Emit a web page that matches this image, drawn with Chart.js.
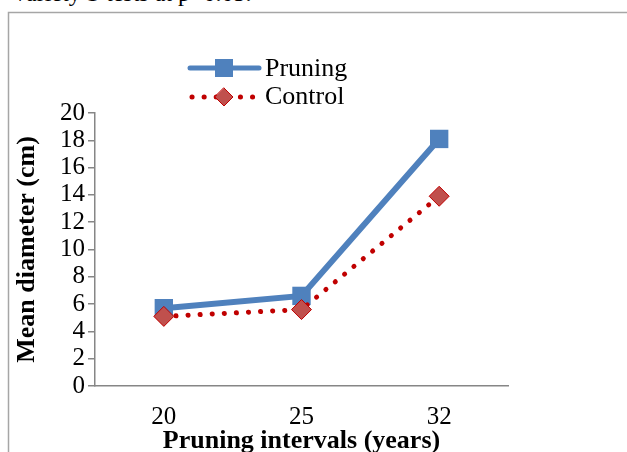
<!DOCTYPE html>
<html>
<head>
<meta charset="utf-8">
<script src="https://cdn.jsdelivr.net/npm/chart.js@4"></script>
<style>
  html, body { margin: 0; padding: 0; background: #fff; overflow: hidden; }
  #wrap { position: relative; width: 627px; height: 452px; overflow: hidden; }
  #topText { position: absolute; left: 14px; top: -20px; font: 24px "Liberation Serif", serif; color: #000; white-space: nowrap; }
  canvas { position: absolute; left: 0; top: 0; }
</style>
</head>
<body>
<div id="wrap">
  <div id="topText">variety S tests at p=0.05.</div>
  <canvas id="c" width="627" height="452"></canvas>
</div>
<script>
const categories = ["20", "25", "32"];
const pruningValues = [5.7, 6.6, 18.1];
const controlValues = [5.1, 5.6, 13.9];
const yTicks = [0, 2, 4, 6, 8, 10, 12, 14, 16, 18, 20];
const seriesNames = ["Pruning", "Control"];
const xTitle = 'Pruning intervals (years)';
const yTitle = 'Mean diameter (cm)';

const SERIF = '"Liberation Serif", "Times New Roman", serif';
const FS = 25;

const framePlugin = {
  id: 'frame',
  beforeDraw(chart) {
    const ctx = chart.ctx;
    ctx.save();
    ctx.strokeStyle = '#a6a6a6';
    ctx.lineWidth = 1.5;
    ctx.beginPath();
    ctx.moveTo(8.5, 452);
    ctx.lineTo(8.5, 12.5);
    ctx.lineTo(627, 12.5);
    ctx.stroke();
    ctx.restore();
  }
};

const legendPlugin = {
  id: 'customLegend',
  afterDraw(chart) {
    const ctx = chart.ctx;
    ctx.save();
    const x0 = 190, x1 = 259, xm = 224;
    let y = 68;
    ctx.strokeStyle = '#4F81BD';
    ctx.lineWidth = 5;
    ctx.lineCap = 'round';
    ctx.beginPath(); ctx.moveTo(x0, y); ctx.lineTo(x1, y); ctx.stroke();
    ctx.fillStyle = '#4F81BD';
    ctx.fillRect(xm - 9, y - 9, 18, 18);
    y = 97;
    ctx.strokeStyle = '#C00000';
    ctx.setLineDash([0.1, 12]);
    ctx.lineWidth = 5;
    ctx.beginPath(); ctx.moveTo(x0 + 2, y); ctx.lineTo(x1, y); ctx.stroke();
    ctx.setLineDash([]);
    ctx.fillStyle = '#C0504D';
    ctx.strokeStyle = '#C00000';
    ctx.lineWidth = 1;
    ctx.beginPath();
    ctx.moveTo(xm, y - 9); ctx.lineTo(xm + 9, y); ctx.lineTo(xm, y + 9); ctx.lineTo(xm - 9, y); ctx.closePath();
    ctx.fill(); ctx.stroke();
    ctx.fillStyle = '#000';
    ctx.font = '26px ' + SERIF;
    ctx.textBaseline = 'middle';
    ctx.textAlign = 'left';
    ctx.fillText(seriesNames[0], 265, 69);
    ctx.fillText(seriesNames[1], 265, 97);
    // x axis title
    const ca = chart.chartArea;
    ctx.font = 'bold 26px ' + SERIF;
    ctx.textAlign = 'center';
    ctx.fillText(xTitle, (ca.left + ca.right) / 2, 441);
    ctx.restore();
  }
};

new Chart(document.getElementById('c'), {
  type: 'line',
  data: {
    labels: categories,
    datasets: [
      {
        label: seriesNames[1],
        data: controlValues,
        borderColor: '#C00000',
        borderWidth: 5,
        borderDash: [0.1, 12],
        borderCapStyle: 'round',
        pointStyle: 'rectRot',
        pointRadius: 10,
        pointBackgroundColor: '#C0504D',
        pointBorderColor: '#C00000',
        pointBorderWidth: 1,
        tension: 0,
        order: 1
      },
      {
        label: seriesNames[0],
        data: pruningValues,
        borderColor: '#4F81BD',
        borderWidth: 6,
        pointStyle: 'rect',
        pointRadius: 13,
        pointBackgroundColor: '#4F81BD',
        pointBorderColor: '#4F81BD',
        pointBorderWidth: 0,
        tension: 0,
        order: 2
      }
    ]
  },
  options: {
    responsive: false,
    animation: false,
    events: [],
    layout: { padding: { left: 8, right: 119, top: 113, bottom: 0 } },
    plugins: { legend: { display: false }, tooltip: { enabled: false } },
    scales: {
      x: {
        offset: true,
        grid: { display: true, drawOnChartArea: false, drawTicks: false },
        border: { display: true, color: '#868686', width: 1.5 },
        ticks: { color: '#000', font: { family: SERIF, size: FS }, padding: 16 },
        title: { display: false },
        afterFit(s) { s.height = 66; }
      },
      y: {
        min: 0, max: 20,
        afterBuildTicks(s) { s.ticks = yTicks.map(v => ({ value: v })); },
        grid: { display: true, drawOnChartArea: false, drawTicks: true, tickLength: 7, color: '#868686', lineWidth: 1.5 },
        border: { display: true, color: '#868686', width: 1.5 },
        ticks: { color: '#000', font: { family: SERIF, size: FS }, padding: 3, autoSkip: false },
        title: { display: true, text: yTitle, color: '#000',
                 font: { family: SERIF, size: 26, weight: 'bold' }, padding: { top: 4, bottom: 0 } },
        afterFit(s) { s.width = 87; }
      }
    }
  },
  plugins: [framePlugin, legendPlugin]
});
</script>
</body>
</html>
